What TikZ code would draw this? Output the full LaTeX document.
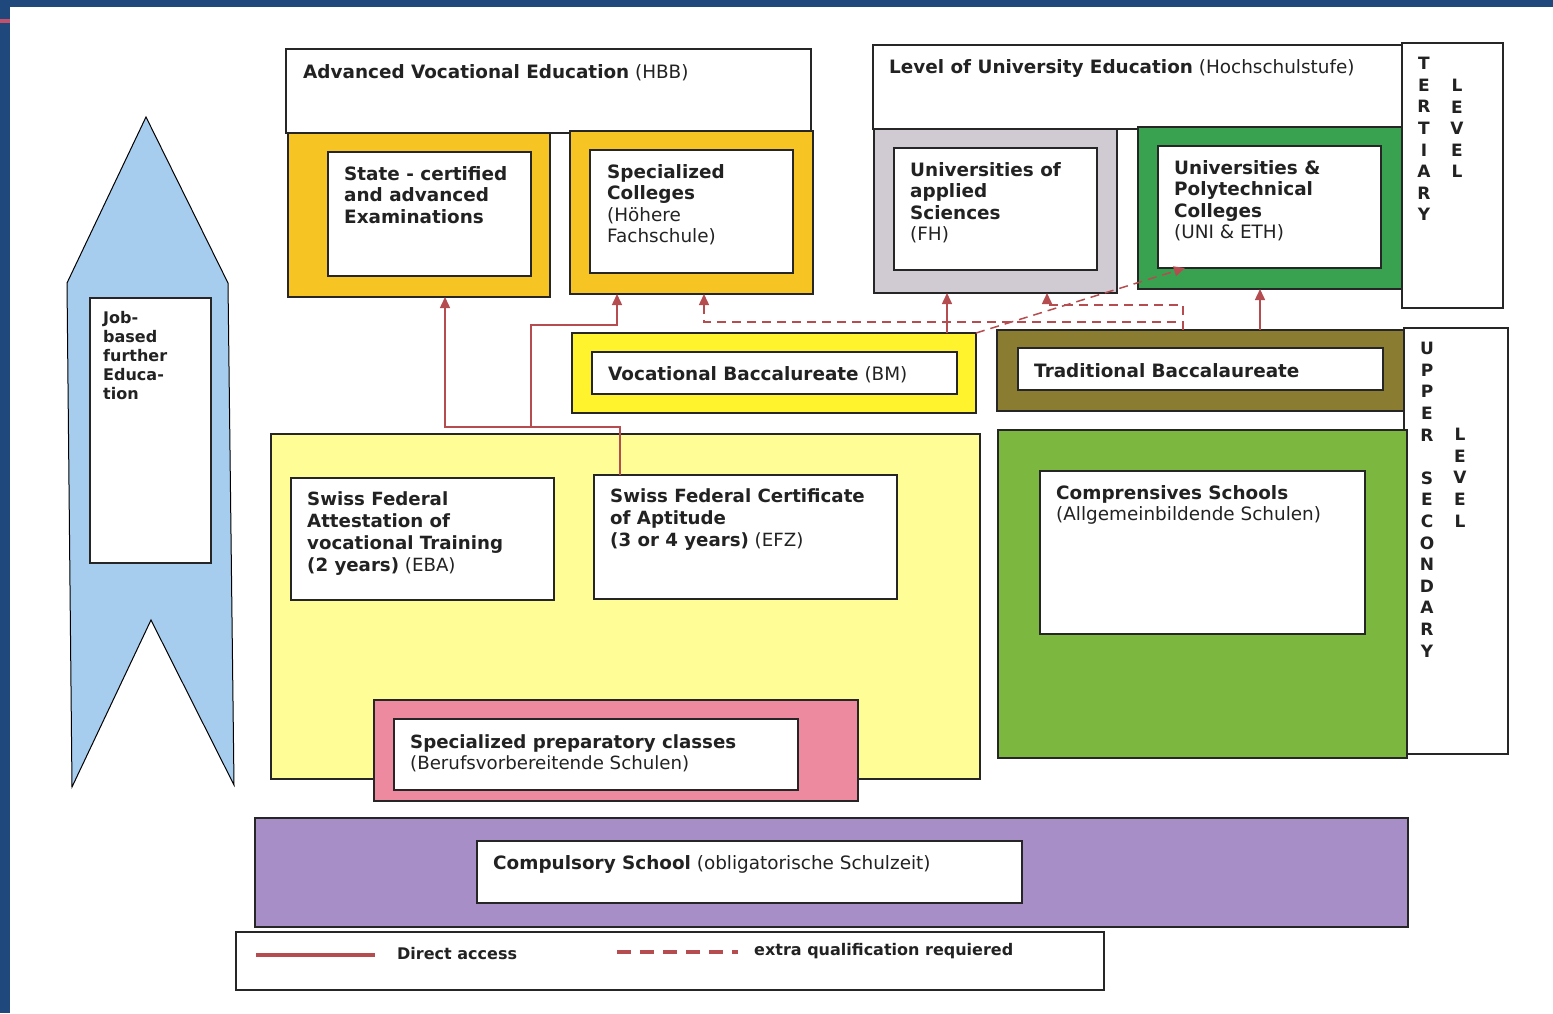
\documentclass[tikz,border=0pt]{standalone}
\usepackage{fontspec}
\setmainfont{DejaVu Sans}
\usepackage{xcolor}
\usepackage{tikz}
\usetikzlibrary{arrows.meta}

\definecolor{frameblue}{RGB}{31,73,125}
\definecolor{framepink}{RGB}{196,80,106}
\definecolor{jobblue}{RGB}{166,204,238}
\definecolor{gold}{RGB}{246,196,35}
\definecolor{fhgrey}{RGB}{208,203,210}
\definecolor{unigreen}{RGB}{56,162,80}
\definecolor{bmyellow}{RGB}{255,243,45}
\definecolor{olive}{RGB}{138,124,48}
\definecolor{vetyellow}{RGB}{255,253,150}
\definecolor{preppink}{RGB}{238,138,160}
\definecolor{gymgreen}{RGB}{124,184,64}
\definecolor{purple}{RGB}{168,142,198}
\definecolor{linkred}{RGB}{180,76,80}
\definecolor{ink}{RGB}{34,34,34}

\tikzset{
    box/.style = {draw = black!85, line width = 1.2pt, anchor = north west,
        inner sep = 0pt, outer sep = 0pt},
    txt/.style = {anchor = north west, inner sep = 0pt, align = left, text = ink,
        font = \fontsize{18.4}{21.5}\selectfont},
    col/.style = {anchor = north, inner sep = 0pt, align = center, text = ink,
        font = \fontsize{17}{21.6}\selectfont\bfseries},
    direct/.style = {draw = linkred, line width = 1.5pt,
        -{Triangle[width = 10pt, length = 11pt]}},
    extra/.style = {direct, dash pattern = on 9pt off 6pt}
}

% a box from (x1,y1) to (x2,y2), counted in pixels from the top left
\newcommand{\panel}[6]{%
    \node[box, fill = #6, minimum width = #4-#2, minimum height = #5-#3] (#1) at (#2, #3) {};}

\begin{document}
\begin{tikzpicture}[x = 1pt, y = -1pt]
        \useasboundingbox (0, 0) rectangle (1553, 1013);
        \fill[frameblue] (0, 0) rectangle (1553, 7);
        \fill[frameblue] (0, 0) rectangle (10, 1013);
        \fill[framepink] (0, 19) rectangle (10, 23);

        % job-based further education
        \filldraw[fill = jobblue, draw = black, line width = 1pt] (146, 117) -- (228, 283)
            -- (234, 785) -- (151, 620) -- (72, 787) -- (67, 283) -- cycle;
        \panel{jobbox}{90}{298}{211}{563}{white}
        \node[txt, font = \fontsize{16}{19}\selectfont\bfseries] (jobtext) at (103, 311)
            {Job-\\based\\further\\Educa-\\tion};

        % tertiary level
        \panel{hbbhead}{286}{49}{811}{133}{white}
        \panel{stategold}{288}{133}{550}{297}{gold}
        \panel{statebox}{328}{152}{531}{276}{white}
        \panel{hfgold}{570}{131}{813}{294}{gold}
        \panel{hfbox}{590}{150}{793}{273}{white}
        \node[txt] (hbbtitle) at (303, 64) {\textbf{Advanced Vocational Education} (HBB)};
        \node[txt] (statetext) at (344, 166)
            {\textbf{State - certified}\\\textbf{and advanced}\\\textbf{Examinations}};
        \node[txt] (hftext) at (607, 164)
            {\textbf{Specialized}\\\textbf{Colleges}\\(Höhere\\Fachschule)};

        \panel{unihead}{873}{45}{1402}{129}{white}
        \panel{fhgrey}{874}{129}{1117}{293}{fhgrey}
        \panel{fhbox}{894}{148}{1097}{270}{white}
        \panel{unigreen}{1138}{127}{1402}{289}{unigreen}
        \panel{unibox}{1158}{146}{1381}{268}{white}
        \panel{tertiary}{1402}{43}{1503}{308}{white}
        \node[txt] (unititle) at (889, 59) {\textbf{Level of University Education} (Hochschulstufe)};
        \node[txt] (fhtext) at (910, 162)
            {\textbf{Universities of}\\\textbf{applied}\\\textbf{Sciences}\\(FH)};
        \node[txt] (unitext) at (1174, 160)
            {\textbf{Universities \&}\\\textbf{Polytechnical}\\\textbf{Colleges}\\(UNI \& ETH)};
        \node[col] (tertword) at (1424, 57) {T\\E\\R\\T\\I\\A\\R\\Y};
        \node[col] (tertlevel) at (1457, 79) {L\\E\\V\\E\\L};

        % upper secondary level
        \panel{bmyellow}{572}{333}{976}{413}{bmyellow}
        \panel{bmbox}{592}{352}{957}{394}{white}
        \node[txt] (bmtext) at (608, 366) {\textbf{Vocational Baccalureate} (BM)};
        \panel{mattolive}{997}{330}{1404}{411}{olive}
        \panel{mattbox}{1018}{348}{1383}{390}{white}
        \node[txt] (matttext) at (1034, 363) {\textbf{Traditional Baccalaureate}};
        \panel{upper}{1404}{328}{1508}{754}{white}
        \node[col] (upperword) at (1427, 342)
            {U\\P\\P\\E\\R\\\mbox{}\\S\\E\\C\\O\\N\\D\\A\\R\\Y};
        \node[col] (upperlevel) at (1460, 428) {L\\E\\V\\E\\L};

        \panel{vetyellow}{271}{434}{980}{779}{vetyellow}
        \panel{ebabox}{291}{478}{554}{600}{white}
        \panel{efzbox}{594}{475}{897}{599}{white}
        \node[txt, font = \fontsize{18.2}{22}\selectfont] (ebatext) at (307, 491)
            {\textbf{Swiss Federal}\\\textbf{Attestation of}\\\textbf{vocational Training}\\\textbf{(2 years)} (EBA)};
        \node[txt, font = \fontsize{18.2}{22}\selectfont] (efztext) at (610, 488)
            {\textbf{Swiss Federal Certificate}\\\textbf{of Aptitude}\\\textbf{(3 or 4 years)} (EFZ)};
        \panel{preppink}{374}{700}{858}{801}{preppink}
        \panel{prepbox}{394}{719}{798}{790}{white}
        \node[txt, font = \fontsize{18.2}{21}\selectfont] (preptext) at (410, 734)
            {\textbf{Specialized preparatory classes}\\(Berufsvorbereitende Schulen)};

        \panel{gymgreen}{998}{430}{1407}{758}{gymgreen}
        \panel{gymbox}{1040}{471}{1365}{634}{white}
        \node[txt, font = \fontsize{18.4}{21}\selectfont] (gymtext) at (1056, 485)
            {\textbf{Comprensives Schools}\\(Allgemeinbildende Schulen)};

        % compulsory school
        \panel{purple}{255}{818}{1408}{927}{purple}
        \panel{compbox}{477}{841}{1022}{903}{white}
        \node[txt] (comptext) at (493, 855) {\textbf{Compulsory School} (obligatorische Schulzeit)};

        % access paths
        \coordinate (efzup) at (620, 475);
        \coordinate (vetjoin) at (445, 427);
        \coordinate (vetfork) at (531, 427);
        \coordinate (hfturn) at (617, 325);
        \draw[direct] (efzup) |- (vetjoin) -- (vetjoin |- stategold.south);
        \draw[direct, -] (vetfork) -- (vetjoin);
        \draw[direct] (vetfork) |- (hfturn) -- (hfturn |- hfgold.south);

        \coordinate (bmfh) at (947, 333);
        \draw[direct] (bmfh) -- (bmfh |- fhgrey.south);
        \coordinate (mattuni) at (1260, 330);
        \draw[direct] (mattuni) -- (mattuni |- unigreen.south);

        \draw[extra] (bmyellow.north east) -- ([xshift = 27pt]unibox.south west);
        \coordinate (mattout) at (1183, 330);
        \coordinate (hfdash) at (704, 322);
        \coordinate (fhdash) at (1047, 305);
        \draw[extra] (mattout) |- (hfdash) -- (hfdash |- hfgold.south);
        \draw[extra] (mattout) |- (fhdash) -- (fhdash |- fhgrey.south);

        % legend
        \panel{legend}{236}{932}{1104}{990}{white}
        \coordinate (solidA) at (256, 955);
        \coordinate (solidB) at (375, 955);
        \coordinate (dashA) at (617, 952);
        \coordinate (dashB) at (738, 952);
        \draw[linkred, line width = 4pt] (solidA) -- (solidB);
        \draw[linkred, line width = 4pt, dash pattern = on 14pt off 9pt] (dashA) -- (dashB);
        \node[txt, font = \fontsize{16}{19}\selectfont\bfseries] (directtext) at (397, 947) {Direct access};
        \node[txt, font = \fontsize{16}{19}\selectfont\bfseries] (extratext) at (754, 943)
            {extra qualification requiered};
    \end{tikzpicture}
\end{document}
